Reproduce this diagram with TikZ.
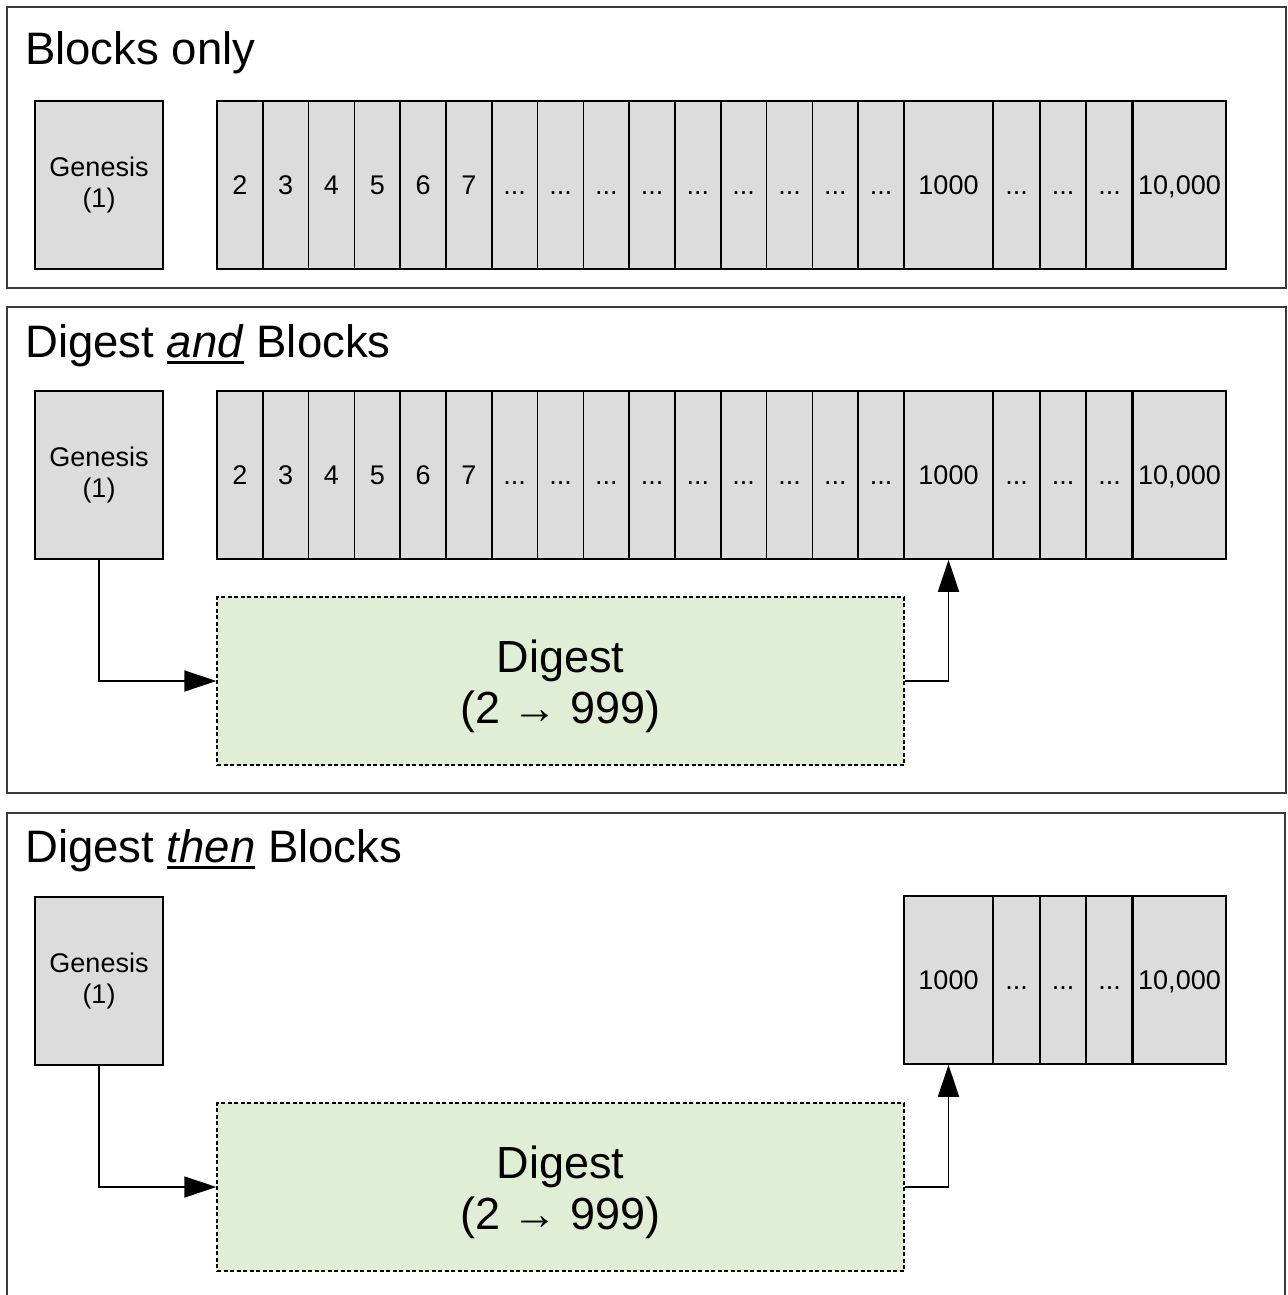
\documentclass[tikz,border=0pt]{standalone}
\usepackage{fontspec}
\setmainfont{Liberation Sans}
\usetikzlibrary{arrows.meta}

\definecolor{blockgray}{HTML}{DCDCDC}
\definecolor{digestgreen}{HTML}{E0EED6}
\definecolor{framegray}{HTML}{3A3A3A}

% underline drawn as a rule beneath a word
\newcommand\ulword[1]{\setbox0\hbox{#1}\rlap{\rule[-6.5pt]{\wd0}{2.6pt}}\box0\relax}
% label of an elided block
\newcommand\dts{...}

% one row of numbered blocks: #1 name prefix, #2 top edge, #3 left/right/label list
\newcommand\cellrow[3]{%
  \foreach \l/\r/\t [count=\i] in {#3}
    \node[cell, minimum width={\r-\l}] (#1-\i) at ({(\l+\r)/2}, {#2+84}) {\t};
}

\begin{document}
\begin{tikzpicture}[x=1pt, y=-1pt,
  panel/.style={draw=framegray, line width=1.6pt},
  title/.style={anchor=base west, inner sep=0pt, font=\fontsize{45.5}{54}\selectfont},
  cell/.style={draw, fill=blockgray, line width=1.6pt, minimum height=168,
    inner sep=0pt, text height=19pt, text depth=0pt, font=\fontsize{27}{31}\selectfont},
  genesis/.style={draw, fill=blockgray, line width=1.6pt, minimum width=128,
    minimum height=168, inner sep=0pt, align=center, font=\fontsize{27}{31}\selectfont},
  digest/.style={draw, fill=digestgreen, line width=1.4pt, dash pattern=on 4pt off 2.5pt,
    minimum width=687, minimum height=168, inner sep=0pt, align=center,
    font=\fontsize{45}{51}\selectfont},
  conn/.style={line width=1.8pt, -{Triangle[length=32pt, width=21pt]}}
]
\useasboundingbox (0,0) rectangle (1287,1295);
\fill[white] (0,0) rectangle (1287,1295);

% frames
\draw[panel] (7,7) rectangle (1286,288);
\draw[panel] (7,307) rectangle (1286,793);
\draw[panel] (7,813) rectangle (1285,1310);

% titles
\node[title] (t1) at (25,65) {Blocks only};
\node[title] (t2) at (25,357) {Digest \ulword{\textit{and}} Blocks};
\node[title] (t3) at (25,862) {Digest \ulword{\textit{then}} Blocks};

% genesis blocks
\node[genesis] (g1) at (99,185) {Genesis\\(1)};
\node[genesis] (g2) at (99,475) {Genesis\\(1)};
\node[genesis] (g3) at (99,981) {Genesis\\(1)};

% block rows
\cellrow{r1}{101}{217/262.8/2, 262.8/308.6/3, 308.6/354.4/4, 354.4/400.2/5, 400.2/446/6,
  446/491.8/7, 491.8/537.6/\dts, 537.6/583.4/\dts, 583.4/629.2/\dts, 629.2/675/\dts,
  675/720.8/\dts, 720.8/766.6/\dts, 766.6/812.4/\dts, 812.4/858.2/\dts, 858.2/904/\dts,
  904/993/1000, 993/1040/\dts, 1040/1086/\dts, 1086/1133/\dts, 1133/1226/{10,000}}
\cellrow{r2}{391}{217/262.8/2, 262.8/308.6/3, 308.6/354.4/4, 354.4/400.2/5, 400.2/446/6,
  446/491.8/7, 491.8/537.6/\dts, 537.6/583.4/\dts, 583.4/629.2/\dts, 629.2/675/\dts,
  675/720.8/\dts, 720.8/766.6/\dts, 766.6/812.4/\dts, 812.4/858.2/\dts, 858.2/904/\dts,
  904/993/1000, 993/1040/\dts, 1040/1086/\dts, 1086/1133/\dts, 1133/1226/{10,000}}
\cellrow{r3}{896}{904/993/1000, 993/1040/\dts, 1040/1086/\dts, 1086/1133/\dts, 1133/1226/{10,000}}

% heavier divider in front of the last block
\draw[line width=2.6pt] (r1-20.north west) -- (r1-20.south west);
\draw[line width=2.6pt] (r2-20.north west) -- (r2-20.south west);
\draw[line width=2.6pt] (r3-5.north west) -- (r3-5.south west);

% digests
\node[digest] (d2) at (560.5,681) {\rule{0pt}{43pt}Digest\\(2 → 999)};
\node[digest] (d3) at (560.5,1187) {\rule{0pt}{43pt}Digest\\(2 → 999)};

% connectors
\draw[conn] (g2.south) |- (d2.west);
\draw[conn] (d2.east) -| (r2-16.south);
\draw[conn] (g3.south) |- (d3.west);
\draw[conn] (d3.east) -| (r3-1.south);
\end{tikzpicture}
\end{document}
